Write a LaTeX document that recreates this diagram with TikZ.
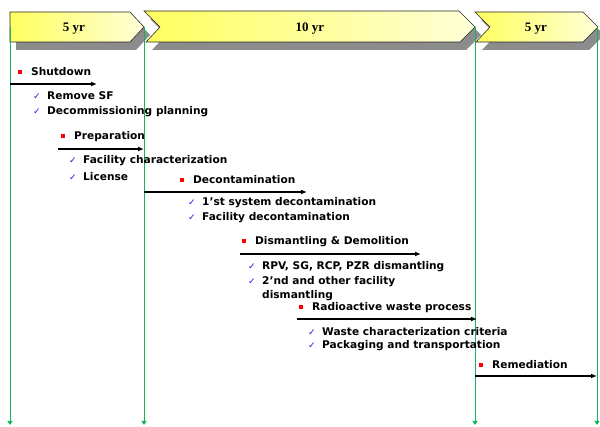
\documentclass[tikz,border=0pt]{standalone}
\usepackage{fontspec}
\setmainfont{DejaVu Sans}
\newfontfamily\headfont{Liberation Serif}
\newfontfamily\symfont{DejaVu Sans}
\usetikzlibrary{arrows.meta}
\definecolor{guidegreen}{RGB}{20,180,90}
\definecolor{chevbright}{RGB}{255,255,95}
\definecolor{chevpale}{RGB}{255,255,215}
\definecolor{tickblue}{RGB}{30,30,230}
\newcommand{\chk}{\makebox[14pt][l]{\color{tickblue}\symfont\fontsize{9}{9}\selectfont ✓}}
\newcommand{\sq}{\makebox[13pt][l]{\color{red}\raisebox{2pt}{\rule{4pt}{4pt}}}}
\tikzset{
  chev/.style={draw=black!85, line width=0.6pt, left color=chevbright, right color=chevpale},
  chevshadow/.style={fill=black!45, draw=none},
  yrlabel/.style={font=\headfont\bfseries\fontsize{13}{13}\selectfont, inner sep=0pt},
  phase/.style={anchor=west, inner sep=0pt, font=\bfseries\fontsize{10.6}{14}\selectfont},
  item/.style={anchor=west, inner sep=0pt, align=left, font=\bfseries\fontsize{10.6}{14}\selectfont},
  bar/.style={line width=1.6pt, -{Latex[length=6pt,width=5pt]}},
  guide/.style={guidegreen, line width=0.8pt, -{Triangle[length=4pt,width=5pt]}}
}
\begin{document}
\begin{tikzpicture}[x=1pt,y=-1pt]
  %%%%% START %%%%%
  \def\ytip{27}
  \def\ytop{12}
  \def\ybot{42}
  \def\ylow{425}
  \useasboundingbox (0,0) rectangle (600,427);

  % shadows of the chevrons
  \begin{scope}[xshift=6pt,yshift=-8pt]
    \fill[chevshadow] (10,\ytop) -- (130,\ytop) -- (144,\ytip) -- (130,\ybot) -- (10,\ybot) -- cycle;
    \fill[chevshadow] (144,11) -- (459,11) -- (475,\ytip) -- (460,\ybot) -- (146,\ybot) -- (160,\ytip) -- cycle;
    \fill[chevshadow] (475,\ytop) -- (583,\ytop) -- (598,\ytip) -- (583,\ybot) -- (476,\ybot) -- (490,\ytip) -- cycle;
  \end{scope}

  % chevrons
  \draw[chev] (10,\ytop) -- (130,\ytop) -- (144,\ytip) -- (130,\ybot) -- (10,\ybot) -- cycle;
  \draw[chev] (144,11) -- (459,11) -- (475,\ytip) -- (460,\ybot) -- (146,\ybot) -- (160,\ytip) -- cycle;
  \draw[chev] (475,\ytop) -- (583,\ytop) -- (598,\ytip) -- (583,\ybot) -- (476,\ybot) -- (490,\ytip) -- cycle;

  \node[yrlabel] (hd-a) at (74,29) {5 yr};
  \node[yrlabel] (hd-b) at (310,29) {10 yr};
  \node[yrlabel] (hd-c) at (536,29) {5 yr};

  % green guide lines
  \foreach \x/\n in {10/a,144/b,475/c,597/d}{
    \coordinate (g\n-top) at (\x,\ytip);
    \coordinate (g\n-end) at (\x,\ylow);
    \draw[guide] (g\n-top) -- (g\n-end);
  }

  % shutdown
  \node[phase] (shut) at (18,72) {\sq Shutdown};
  \coordinate (shut-s) at (10,84);
  \coordinate (shut-e) at (97,84);
  \draw[bar] (shut-s) -- (shut-e);
  \node[item] (shut-1) at (33,96) {\chk Remove SF};
  \node[item] (shut-2) at (33,112) {\chk Decommissioning planning};

  % preparation
  \node[phase] (prep) at (61,137) {\sq Preparation};
  \coordinate (prep-s) at (58,149);
  \coordinate (prep-e) at (144,149);
  \draw[bar] (prep-s) -- (prep-e);
  \node[item] (prep-1) at (69,161) {\chk Facility characterization};
  \node[item] (prep-2) at (69,177) {\chk License};

  % decontamination
  \node[phase] (decon) at (180,180) {\sq Decontamination};
  \coordinate (decon-s) at (144,192);
  \coordinate (decon-e) at (307,192);
  \draw[bar] (decon-s) -- (decon-e);
  \node[item] (decon-1) at (188,203) {\chk 1’st system decontamination};
  \node[item] (decon-2) at (188,218) {\chk Facility decontamination};

  % dismantling
  \node[phase] (dism) at (242,242) {\sq Dismantling \& Demolition};
  \coordinate (dism-s) at (240,254);
  \coordinate (dism-e) at (421,254);
  \draw[bar] (dism-s) -- (dism-e);
  \node[item] (dism-1) at (248,267) {\chk RPV, SG, RCP, PZR dismantling};
  \node[item] (dism-2) at (248,289) {\chk 2’nd and other facility\\\hspace*{14pt}dismantling};

  % waste
  \node[phase] (waste) at (299,308) {\sq Radioactive waste process};
  \coordinate (waste-s) at (297,319);
  \coordinate (waste-e) at (477,319);
  \draw[bar] (waste-s) -- (waste-e);
  \node[item] (waste-1) at (308,332) {\chk Waste characterization criteria};
  \node[item] (waste-2) at (308,346) {\chk Packaging and transportation};

  % remediation
  \node[phase] (remed) at (479,365) {\sq Remediation};
  \coordinate (remed-s) at (475,376);
  \coordinate (remed-e) at (597,376);
  \draw[bar] (remed-s) -- (remed-e);
  %%%%% END %%%%%
\end{tikzpicture}
\end{document}
